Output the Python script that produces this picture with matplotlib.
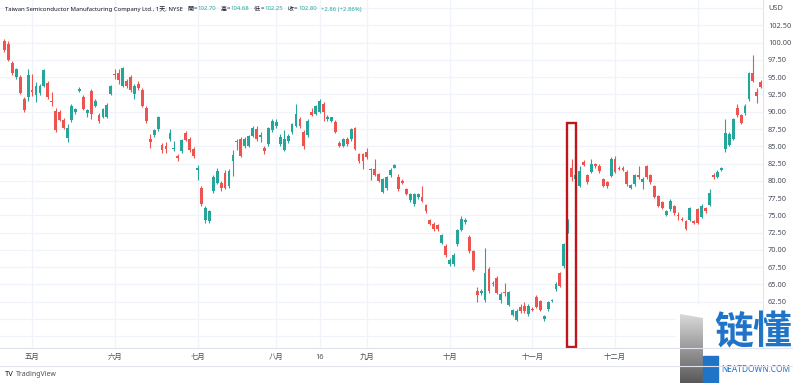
import matplotlib
matplotlib.use("Agg")
import matplotlib.pyplot as plt
from matplotlib.patches import Rectangle, Polygon
import numpy as np

plt.rcParams['font.family'] = ['Noto Sans', 'Noto Sans CJK SC', 'DejaVu Sans']

# ---------------- data ----------------
opens = [100.2, 99.8, 97.0, 95.0, 95.0, 91.9, 92.1, 93.2, 92.4, 92.7,
         93.8, 94.1, 91.6, 90.1, 89.9, 88.8, 86.2, 88.8, 89.9, 93.0,
         92.1, 89.8, 93.0, 90.9, 89.5, 89.3, 89.3, 92.6, 95.5, 95.6,
         93.8, 94.4, 95.0, 92.6, 94.0, 93.1, 90.6, 86.0, 86.7, 87.5,
         85.2, 85.1, 86.0, 84.6, 83.6, 84.3, 86.9, 86.0, 84.6, 81.6,
         79.0, 74.4, 74.2, 78.5, 79.75, 79.7, 81.2, 79.2, 82.9, 85.8,
         86.05, 85.0, 85.1, 86.5, 87.5, 86.4, 84.8, 85.3, 87.3, 87.9,
         85.3, 84.5, 85.8, 87.0, 88.0, 89.0, 87.0, 86.6, 90.0, 89.7,
         90.0, 91.1, 89.0, 88.7, 88.5, 85.5, 85.1, 86.0, 86.05, 87.6,
         83.9, 83.9, 84.2, 81.5, 81.7, 80.96, 78.4, 78.9, 80.8, 81.9,
         80.5, 80.0, 78.8, 77.2, 76.6, 77.6, 77.7, 76.45, 74.3, 73.7,
         73.55, 71.0, 70.5, 67.9, 67.9, 70.8, 72.9, 74.0, 71.85, 69.8,
         64.1, 63.7, 62.8, 67.25, 65.2, 65.9, 62.7, 63.9, 62.07, 60.6,
         59.9, 61.8, 61.9, 60.75, 61.45, 63.2, 62.55, 60.0, 61.4, 62.6,
         64.3, 66.6, 67.6, 72.6, 81.9, 80.2, 79.3, 82.75, 80.8, 81.3,
         82.4, 82.2, 80.2, 79.8, 80.7, 83.1, 81.9, 81.9, 81.3, 79.0,
         79.5, 80.8, 79.8, 82.1, 80.8, 79.2, 77.8, 76.9, 75.1, 75.9,
         76.3, 75.1, 74.45, 74.2, 74.4, 74.2, 75.9, 74.8, 76.0, 76.5,
         80.8, 80.6, 81.6, 84.6, 85.2, 86.1, 90.5, 89.5, 89.8, 91.8,
         95.6, 92.8, 94.3]
highs = [100.6, 100.3, 97.4, 96.4, 95.3, 92.2, 96.2, 95.5, 94.3, 94.0,
         96.2, 94.5, 92.8, 90.5, 90.2, 89.1, 88.2, 91.1, 90.6, 93.6,
         92.4, 90.4, 93.3, 91.8, 89.8, 90.6, 91.3, 93.9, 96.2, 96.2,
         96.5, 94.7, 95.3, 94.0, 94.5, 93.4, 90.9, 86.8, 87.5, 89.4,
         85.5, 85.6, 87.5, 85.8, 83.9, 86.1, 87.2, 86.3, 84.9, 82.3,
         79.3, 76.4, 75.8, 80.8, 81.9, 80.0, 81.5, 81.7, 84.4, 86.1,
         86.3, 86.3, 86.7, 87.9, 87.9, 87.0, 85.1, 87.8, 88.9, 89.0,
         86.8, 87.4, 86.8, 88.4, 91.1, 89.3, 87.3, 88.9, 90.6, 91.0,
         91.9, 91.4, 89.5, 89.3, 88.8, 85.8, 86.2, 86.3, 87.7, 87.8,
         84.1, 84.1, 84.8, 81.9, 83.1, 81.2, 80.4, 80.7, 81.8, 82.5,
         81.0, 80.3, 79.0, 78.3, 78.2, 78.3, 79.3, 76.7, 74.5, 74.0,
         73.8, 72.3, 70.8, 68.8, 69.5, 73.1, 74.9, 74.6, 72.1, 70.0,
         64.7, 64.3, 70.3, 67.5, 65.5, 66.2, 63.9, 65.2, 64.0, 61.5,
         61.4, 62.1, 62.4, 62.1, 61.7, 63.5, 62.8, 60.6, 62.6, 62.9,
         65.3, 66.8, 71.0, 74.5, 83.1, 81.3, 82.2, 83.0, 81.0, 83.1,
         82.6, 82.4, 80.4, 80.0, 83.4, 83.6, 82.1, 82.1, 81.5, 79.6,
         81.0, 82.1, 80.5, 82.3, 81.0, 79.4, 78.0, 77.1, 75.8, 77.3,
         76.5, 75.5, 74.7, 74.4, 76.2, 74.4, 76.1, 76.6, 76.2, 78.8,
         81.1, 81.5, 82.0, 88.9, 87.1, 89.1, 91.1, 89.7, 91.1, 95.8,
         98.2, 93.5, 94.6]
lows = [98.7, 97.3, 95.3, 94.8, 92.5, 90.0, 91.6, 92.3, 91.4, 92.4,
        93.6, 91.8, 90.9, 87.0, 88.6, 87.5, 85.6, 88.5, 89.7, 92.8,
        90.2, 89.3, 89.0, 90.7, 88.4, 89.1, 89.1, 92.4, 94.8, 94.0,
        93.6, 93.4, 92.9, 91.9, 93.1, 90.7, 88.4, 84.8, 86.4, 87.2,
        84.1, 84.1, 85.8, 84.3, 82.9, 84.0, 85.7, 84.2, 83.3, 80.1,
        76.4, 73.9, 73.9, 78.3, 79.5, 78.6, 78.8, 78.9, 80.7, 84.5,
        83.4, 84.8, 84.9, 86.3, 85.8, 85.6, 83.9, 85.1, 87.0, 87.7,
        85.0, 84.3, 85.5, 86.8, 87.8, 87.6, 84.6, 86.4, 89.4, 89.5,
        89.8, 88.7, 88.7, 88.5, 86.9, 84.9, 84.9, 85.1, 85.8, 84.4,
        82.6, 81.7, 83.2, 80.1, 80.7, 79.8, 78.2, 78.7, 80.6, 81.8,
        78.6, 79.5, 77.9, 77.0, 76.4, 77.4, 76.9, 75.4, 73.6, 72.8,
        72.7, 70.8, 69.0, 67.7, 67.7, 70.6, 72.7, 73.8, 69.6, 66.9,
        62.5, 63.5, 62.4, 63.8, 64.8, 63.6, 62.3, 63.4, 61.9, 60.4,
        59.7, 60.9, 60.9, 60.5, 61.2, 61.6, 61.1, 59.7, 61.2, 62.5,
        64.1, 64.6, 67.4, 72.4, 80.0, 79.9, 79.1, 82.1, 79.6, 81.1,
        81.9, 81.2, 79.1, 79.0, 80.5, 81.1, 81.5, 81.4, 79.3, 78.8,
        79.3, 80.3, 78.8, 80.3, 79.6, 77.5, 76.2, 75.9, 74.9, 75.7,
        75.1, 74.3, 74.2, 72.9, 74.2, 73.7, 73.7, 74.6, 75.4, 76.3,
        80.3, 80.4, 81.4, 84.2, 85.0, 85.9, 89.3, 88.2, 89.6, 91.6,
        94.3, 91.2, 93.4]
closes = [98.9, 97.5, 95.6, 96.2, 92.7, 90.3, 95.3, 92.8, 93.8, 93.7,
          96.0, 92.1, 91.4, 87.3, 88.8, 87.7, 87.7, 90.9, 90.4, 93.3,
          90.4, 90.2, 89.7, 91.5, 88.6, 90.4, 91.0, 93.7, 95.3, 94.6,
          96.3, 93.7, 93.1, 93.8, 93.5, 90.9, 88.6, 85.6, 87.3, 89.2,
          84.4, 84.6, 86.9, 84.8, 83.3, 85.9, 85.9, 84.4, 83.6, 81.8,
          76.6, 76.1, 75.6, 80.6, 81.4, 78.9, 79.0, 81.4, 83.7, 85.6,
          83.6, 86.05, 86.5, 87.7, 86.05, 86.6, 84.35, 87.6, 88.6, 88.5,
          86.3, 86.1, 86.5, 88.2, 89.7, 87.9, 85.1, 88.7, 89.5, 90.8,
          91.5, 89.9, 89.2, 89.2, 87.1, 85.1, 86.0, 85.3, 87.5, 84.6,
          82.8, 82.8, 83.4, 81.7, 80.9, 80.0, 80.2, 80.5, 81.6, 82.3,
          78.8, 79.75, 78.05, 78.05, 78.05, 78.1, 77.1, 75.6, 73.8, 73.06,
          72.96, 72.1, 69.2, 68.6, 69.3, 72.9, 74.5, 74.3, 69.8, 67.15,
          63.5, 64.1, 66.7, 64.0, 65.0, 63.76, 63.66, 63.8, 63.86, 61.3,
          61.2, 61.1, 61.1, 61.9, 61.35, 61.8, 61.3, 60.4, 62.4, 62.75,
          65.1, 64.8, 70.8, 73.8, 80.5, 80.9, 81.4, 82.3, 79.8, 82.4,
          82.1, 81.4, 79.3, 79.2, 83.2, 81.3, 81.7, 81.6, 79.5, 79.4,
          80.8, 80.5, 80.3, 80.5, 79.8, 77.7, 76.4, 76.1, 75.6, 77.1,
          75.3, 74.95, 74.35, 73.1, 76.0, 73.9, 73.9, 76.4, 75.6, 78.2,
          80.5, 81.3, 81.8, 86.9, 86.8, 88.95, 89.5, 88.4, 90.9, 95.6,
          94.5, 92.3, 93.6]

month_labels = ['五月', '六月', '七月', '八月', '16', '九月', '十月', '十一月', '十二月']
month_idx = [7, 28, 49, 69, 80, 92, 113, 134, 155]
extra_grid_idx = [176]
price_ticks = [62.5, 65.0, 67.5, 70.0, 72.5, 75.0, 77.5, 80.0, 82.5, 85.0,
               87.5, 90.0, 92.5, 95.0, 97.5, 100.0, 102.5]
highlight_idx = 144
title_name = 'Taiwan Semiconductor Manufacturing Company Ltd., 1天, NYSE'
title_vals = [('開', '102.70'), ('高', '104.68'), ('低', '102.25'), ('收', '102.80')]
title_change = '+2.86 (+2.86%)'

# ---------------- figure ----------------
W, H = 793, 383
fig = plt.figure(figsize=(W / 100, H / 100), dpi=100)
fig.patch.set_facecolor('white')
plot_right = 763
plot_bottom = 348
ax = fig.add_axes([0, 1 - plot_bottom / H, plot_right / W, plot_bottom / H])

UP = '#26a69a'
DOWN = '#ef5350'
GRID = '#f0f3fa'

x = np.arange(len(opens))
o = np.array(opens); c = np.array(closes)
hi = np.array(highs); lo = np.array(lows)
cols = [UP if cc >= oo else DOWN for oo, cc in zip(o, c)]

ax.vlines(x, lo, hi, colors=cols, linewidth=0.8, zorder=3)
bottom = np.minimum(o, c)
height = np.maximum(np.abs(c - o), 0.13)
ax.bar(x, height, bottom=bottom, width=0.72, color=cols, linewidth=0, zorder=4)

ax.set_xlim(-1.14, 192.56)
ax.set_ylim(55.8, 106.18)

# grid
for p in np.arange(57.5, 106, 2.5):
    ax.axhline(p, color=GRID, linewidth=0.9, zorder=0)
for gi in month_idx + extra_grid_idx:
    ax.axvline(gi, color=GRID, linewidth=0.9, zorder=0)

ax.set_xticks(month_idx)
ax.set_xticklabels(month_labels)
ax.yaxis.tick_right()
ax.set_yticks(price_ticks)
ax.set_yticklabels([f'{p:.2f}' for p in price_ticks])
ax.tick_params(axis='both', length=0, labelsize=5.3, colors='#4a4e59')
ax.tick_params(axis='y', pad=3.5)
ax.tick_params(axis='x', pad=4.5)
for s in ax.spines.values():
    s.set_visible(False)

# highlight box
ax.add_patch(Rectangle((highlight_idx - 1.15, 55.9), 2.3, 88.4 - 55.9, fill=False,
                       edgecolor='#c0161b', linewidth=1.7, zorder=6, clip_on=False))

# borders
fig.add_artist(plt.Line2D([0, 1], [1 - plot_bottom / H] * 2, color='#e0e3eb', lw=0.8))
fig.add_artist(plt.Line2D([plot_right / W] * 2, [1 - plot_bottom / H, 1], color='#e0e3eb', lw=0.8))
fig.add_artist(plt.Line2D([0, 1], [1 - 366 / H] * 2, color='#e0e3eb', lw=0.8))

# title
fs = 4.3
tx = 5 / W
ty = 1 - 9 / H
t = fig.text(tx, ty, title_name, fontsize=fs, color='#131722', va='center')
fig.canvas.draw()
r = fig.canvas.get_renderer()
cur = t.get_window_extent(r).x1 + 4
for k, v in title_vals:
    tk = fig.text(cur / W, ty, k, fontsize=fs, color='#131722', va='center')
    cur = tk.get_window_extent(r).x1 + 0.5
    te = fig.text(cur / W, ty, '=', fontsize=fs, color='#131722', va='center')
    cur = te.get_window_extent(r).x1 + 0.5
    tv = fig.text(cur / W, ty, v, fontsize=fs, color=UP, va='center')
    cur = tv.get_window_extent(r).x1 + 4.5
fig.text(cur / W, ty, title_change, fontsize=fs, color=UP, va='center')

fig.text(768 / W, 1 - 9 / H, 'USD', fontsize=5.3, color='#4a4e59', va='center')

# footer TradingView
fig.text(5 / W, 1 - 375 / H, 'TV', fontsize=5.5, color='#131722', va='center', fontweight='bold')
fig.text(16 / W, 1 - 375 / H, 'TradingView', fontsize=5.0, color='#4a4e59', va='center')

# watermark logo
lax = fig.add_axes([676 / W, 0, (W - 676) / W, 78 / H])
lax.set_xlim(676, W)
lax.set_ylim(383, 305)
lax.axis('off')
lax.add_patch(Rectangle((676, 305), W - 676, 78, color='white', zorder=0))
grad = np.linspace(0.35, 0.85, 64).reshape(-1, 1)
grad = np.tile(grad, (1, 8))
im = lax.imshow(grad, cmap='gray', extent=(680, 703, 314, 383), aspect='auto', zorder=1,
                vmin=0, vmax=1)
poly = Polygon([(680, 314), (703, 318), (703, 383), (680, 383)], closed=True,
               transform=lax.transData, facecolor='none', edgecolor='none')
lax.add_patch(poly)
im.set_clip_path(poly)
lax.add_patch(Rectangle((703, 356), 15, 27, color='#1f74c8', zorder=2))
lax.text(753, 333, '链懂', fontsize=28, color='#1f74c8', ha='center', va='center',
         fontweight='bold', family=['Noto Sans CJK SC'])
lax.text(756, 369, 'NEATDOWN.COM', fontsize=6.0, color='#1f74c8', ha='center', va='center',
         fontweight='bold')

fig.savefig('out.png', dpi=100)
